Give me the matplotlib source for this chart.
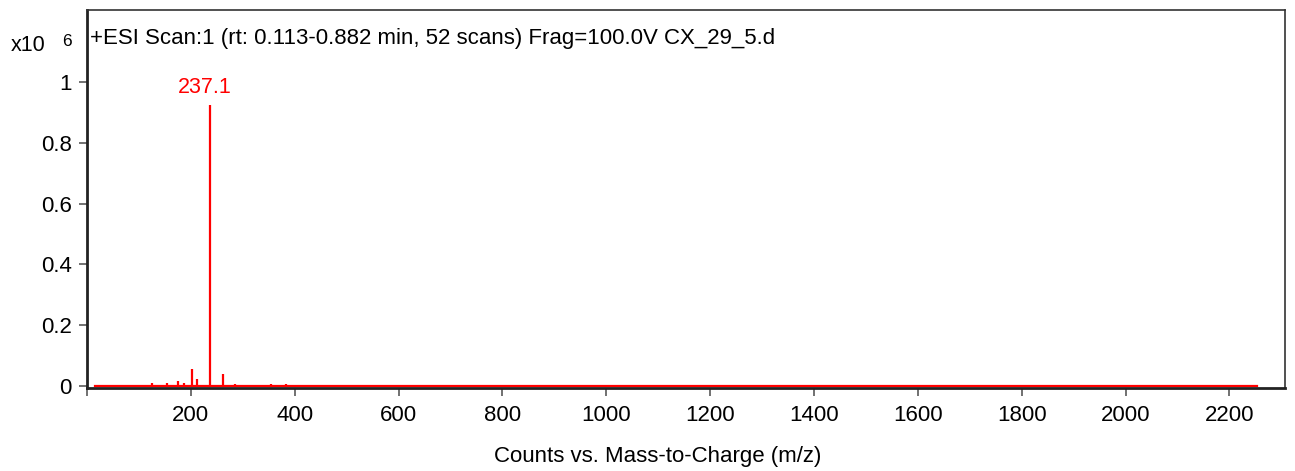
import numpy as np
import matplotlib.pyplot as plt

plt.rcParams['font.family'] = ['Liberation Sans', 'DejaVu Sans']

# stick spectrum: m/z and counts (x10^6)
mz = [126, 154, 175, 187, 202, 212, 237.1, 261, 284, 355, 384]
counts = [0.009, 0.009, 0.016, 0.010, 0.056, 0.023, 0.926, 0.040, 0.008, 0.008, 0.008]
mz_range = [15, 2253]
base_peak = 237.1
base_label = "237.1"

title = "+ESI Scan:1 (rt: 0.113-0.882 min, 52 scans) Frag=100.0V CX_29_5.d"
xlabel = "Counts vs. Mass-to-Charge (m/z)"
xticks = list(range(0, 2201, 200))
yticks = [0, 0.2, 0.4, 0.6, 0.8, 1]
ytick_labels = ["0", "0.2", "0.4", "0.6", "0.8", "1"]

fig = plt.figure(figsize=(12.95, 4.71), dpi=100)
ax = fig.add_axes([0.0672, 0.176, 0.9251, 0.8028])

red = '#ff0000'
ax.plot(mz_range, [0, 0], color=red, lw=1.6, zorder=2)
ax.vlines(mz, 0, counts, color=red, lw=1.6, zorder=3)

i = mz.index(base_peak)
ax.annotate(base_label, (mz[i], counts[i]), xytext=(-4, 5), textcoords='offset points',
            ha='center', va='bottom', color=red, fontsize=15.5)

ax.set_xlim(0, 2307)
ax.set_ylim(-0.0066, 1.237)
ax.set_xticks(xticks)
ax.set_xticklabels([""] + [str(t) for t in xticks[1:]])
ax.set_yticks(yticks)
ax.set_yticklabels(ytick_labels)
ax.tick_params(axis='both', labelsize=16, color='#666666', width=1.3, length=6, pad=5)
ax.tick_params(axis='x', pad=6)

for s in ['left', 'bottom']:
    ax.spines[s].set_linewidth(2.0)
    ax.spines[s].set_color('#222222')
for s in ['top', 'right']:
    ax.spines[s].set_linewidth(1.2)
    ax.spines[s].set_color('#333333')

ax.text(0.0025, 0.925, title, transform=ax.transAxes, fontsize=16, ha='left', va='center')
fig.text(0.008, 0.903, "x10", fontsize=15.5, ha='left', va='center')
fig.text(0.048, 0.912, "6", fontsize=12.5, ha='left', va='center')

ax.set_xlabel(xlabel, fontsize=16)
ax.xaxis.set_label_coords(0.476, -0.152)

fig.savefig('out.png', dpi=100)
